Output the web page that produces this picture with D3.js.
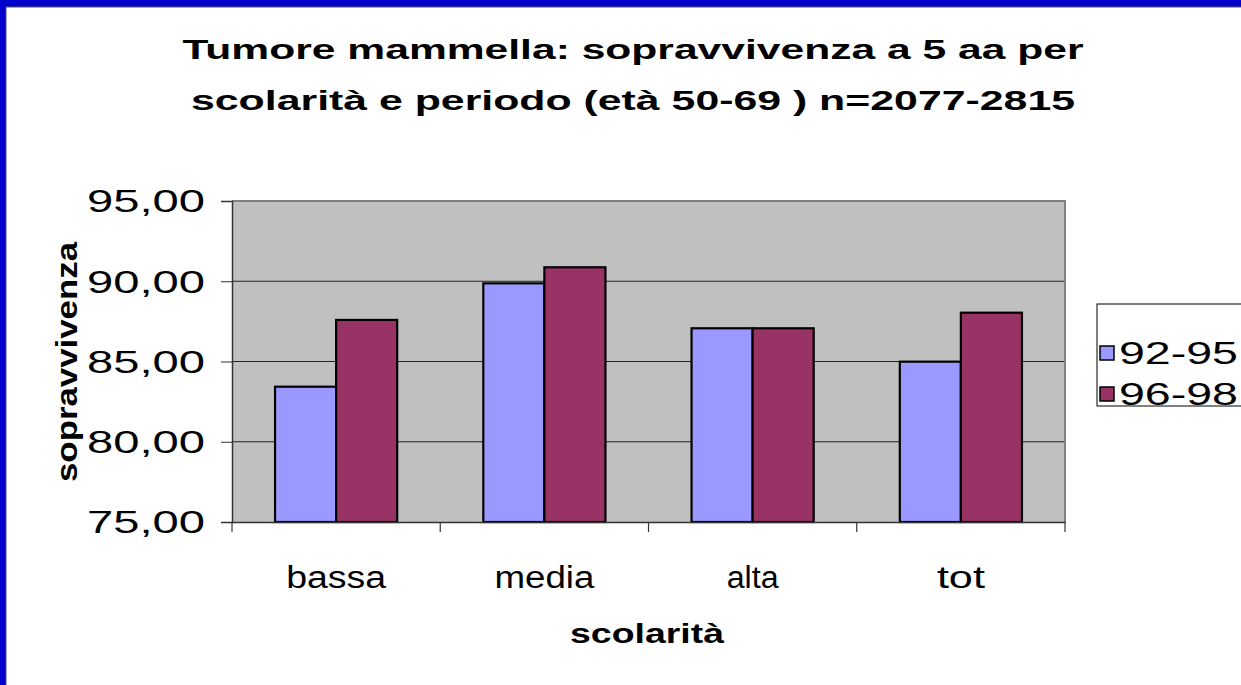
<!DOCTYPE html>
<html><head><meta charset="utf-8">
<script src="https://cdn.jsdelivr.net/npm/d3@7/dist/d3.min.js"></script>
<style>html,body{margin:0;padding:0;background:#fff;}svg{display:block;}text{font-family:Arial,"Liberation Sans",sans-serif;}</style>
</head><body><svg id="c" width="1241" height="685"></svg>
<script>
const categories = ["bassa","media","alta","tot"];
const seriesNames = ["92-95","96-98"];
const values9295 = [83.43, 89.87, 87.07, 84.99];
const values9698 = [87.59, 90.87, 87.07, 88.04];
const yTicks = [75,80,85,90,95];
const titleLines = ["Tumore mammella: sopravvivenza a 5 aa per","scolarità e periodo (età 50-69 ) n=2077-2815"];
const yTitle = "sopravvivenza";
const xTitle = "scolarità";

const colors = {"92-95":"#9999FF","96-98":"#993366"};
const svg = d3.select("#c");
const W=1241,H=685;

// frame
svg.append("rect").attr("x",0).attr("y",0).attr("width",W).attr("height",H).attr("fill","#0000CC");
svg.append("rect").attr("x",6).attr("y",7).attr("width",W).attr("height",H).attr("fill","#fff").attr("stroke","#555").attr("stroke-width",1);

const L=232,R=1065,T=201,B=522;
const x = d3.scaleBand().domain(categories).range([L,R]);
const x1 = d3.scaleBand().domain(seriesNames).range([0,x.bandwidth()]).paddingOuter(0.705);
const y = d3.scaleLinear().domain([75,95]).range([B,T]);

// plot area
svg.append("rect").attr("x",L).attr("y",T).attr("width",R-L).attr("height",B-T).attr("fill","#C0C0C0");
// gridlines
svg.append("g").selectAll("line").data(yTicks.slice(1,-1)).join("line")
  .attr("x1",L).attr("x2",R).attr("y1",d=>y(d)).attr("y2",d=>y(d)).attr("stroke","#222").attr("stroke-width",1);
// top/right border
svg.append("path").attr("d",`M${L},${T}H${R}V${B}`).attr("fill","none").attr("stroke","#808080").attr("stroke-width",2);

// bars
const rows = categories.map((c,i)=>({cat:c, vals:[{s:"92-95",v:values9295[i]},{s:"96-98",v:values9698[i]}]}));
const g = svg.append("g");
rows.forEach(r=>{
  g.selectAll(null).data(r.vals).join("rect")
    .attr("x",d=>x(r.cat)+x1(d.s)).attr("width",x1.bandwidth())
    .attr("y",d=>y(d.v)).attr("height",d=>y(75)-y(d.v))
    .attr("fill",d=>colors[d.s]).attr("stroke","#000").attr("stroke-width",2.2);
});

// axes
const fmt = d3.formatLocale({decimal:",",thousands:".",grouping:[3],currency:["","€"]}).format(".2f");
const ya = svg.append("g").attr("transform",`translate(${L},0)`)
  .call(d3.axisLeft(y).tickValues(yTicks).tickFormat(fmt).tickSize(11).tickPadding(16));
ya.select(".domain").attr("stroke","#333").attr("stroke-width",1.5);
ya.selectAll(".tick line").attr("stroke","#333");
ya.selectAll(".tick text").attr("font-size",31).attr("fill","#000").attr("font-family","Arial, Liberation Sans")
  .attr("textLength",118).attr("lengthAdjust","spacingAndGlyphs").attr("dy","0.35em");

const xa = svg.append("g").attr("transform",`translate(0,${B})`)
  .call(d3.axisBottom(x).tickSize(0).tickFormat(""));
xa.select(".domain").attr("stroke","#333").attr("stroke-width",1.5);
// category boundary ticks
svg.append("g").selectAll("line").data(categories.concat(["_end"])).join("line")
  .attr("x1",(d,i)=> i<categories.length ? x(d) : R).attr("x2",(d,i)=> i<categories.length ? x(d) : R)
  .attr("y1",B).attr("y2",B+10).attr("stroke","#333").attr("stroke-width",1.2);
// category labels
const catW = {bassa:100,media:100,alta:52,tot:48};
svg.append("g").selectAll("text").data(categories).join("text")
  .attr("x",d=>x(d)+x.bandwidth()/2).attr("y",588).attr("text-anchor","middle")
  .attr("font-size",31).attr("textLength",d=>catW[d]).attr("lengthAdjust","spacingAndGlyphs").text(d=>d);

// titles
const tW=[901,884];
svg.append("g").selectAll("text").data(titleLines).join("text")
  .attr("x",633).attr("y",(d,i)=>59+i*51).attr("text-anchor","middle")
  .attr("font-size",28).attr("font-weight","bold").attr("textLength",(d,i)=>tW[i]).attr("lengthAdjust","spacingAndGlyphs").text(d=>d);
svg.append("text").attr("x",647).attr("y",643).attr("text-anchor","middle").attr("font-size",28).attr("font-weight","bold")
  .attr("textLength",154).attr("lengthAdjust","spacingAndGlyphs").text(xTitle);
svg.append("text").attr("transform","translate(77,362) rotate(-90)").attr("text-anchor","middle").attr("font-size",30).attr("font-weight","bold")
  .attr("textLength",240).attr("lengthAdjust","spacingAndGlyphs").text(yTitle);

// legend
const lg = svg.append("g");
lg.append("rect").attr("x",1097).attr("y",304).attr("width",160).attr("height",102).attr("fill","#fff").attr("stroke","#000").attr("stroke-width",1);
const ly = d3.scalePoint().domain(seriesNames).range([353,394]);
lg.selectAll("rect.sw").data(seriesNames).join("rect").attr("class","sw")
  .attr("x",1100).attr("y",d=>ly(d)-7).attr("width",14).attr("height",14).attr("fill",d=>colors[d]).attr("stroke","#000").attr("stroke-width",1.5);
lg.selectAll("text").data(seriesNames).join("text")
  .attr("x",1119).attr("y",d=>ly(d)).attr("dy","0.36em").attr("font-size",31)
  .attr("textLength",119).attr("lengthAdjust","spacingAndGlyphs").text(d=>d);
</script></body></html>
